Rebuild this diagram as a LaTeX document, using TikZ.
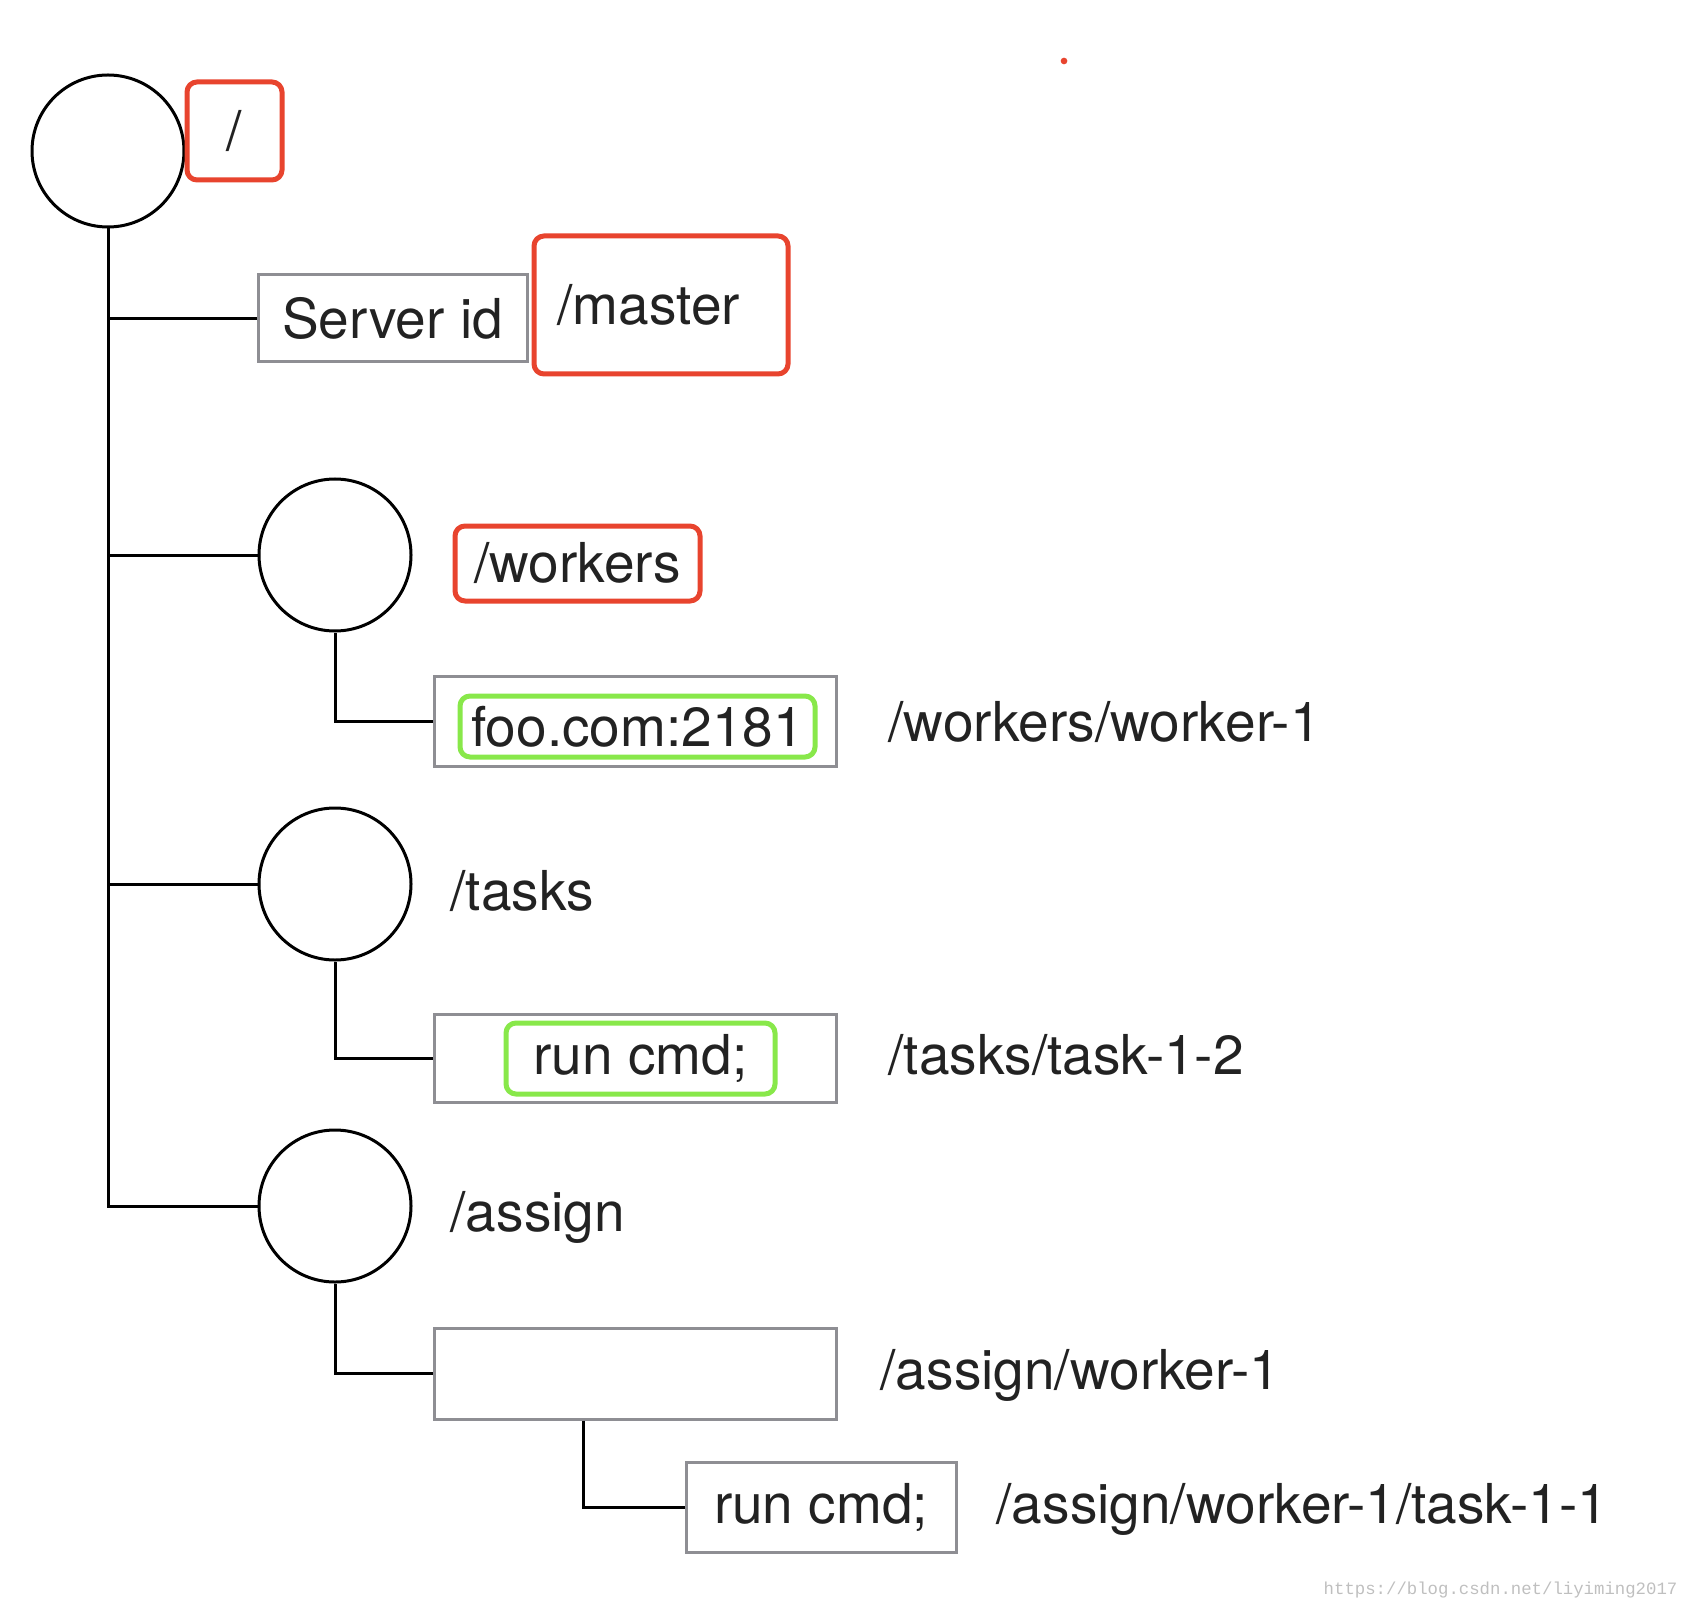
\documentclass[tikz,border=0pt]{standalone}
\usepackage{fontspec}
\setmainfont{TeX Gyre Heros}
\setmonofont{Liberation Mono}
\usepackage{tikz}
\definecolor{redline}{HTML}{E8442E}
\definecolor{greenline}{HTML}{88E84A}
\definecolor{boxgray}{HTML}{8E8E93}
\definecolor{ink}{HTML}{222222}

\begin{document}
\begin{tikzpicture}[x=0.3pt, y=-0.3pt, font=\fontsize{16.5pt}{18pt}\selectfont, text=ink,
    znode/.style={draw, circle, minimum size=45.6pt, inner sep=0pt, line width=0.9pt},
    datbox/.style={rectangle, draw=boxgray, line width=0.9pt, inner sep=0pt},
    tag/.style={rectangle, rounded corners=3pt, draw=redline, line width=1.5pt, inner sep=0pt},
    val/.style={rectangle, rounded corners=3pt, draw=greenline, line width=1.5pt, inner sep=0pt},
    path/.style={anchor=west, inner sep=0pt},
    e/.style={line width=0.9pt}]
    \useasboundingbox (0,0) rectangle (1688,1608);
    % nodes
    \node[znode] (root) at (108,151) {};
    \node[tag, minimum width=28.5pt, minimum height=29.4pt] (rootname) at (234.5,131) {/};
    \node[datbox, minimum width=80.7pt, minimum height=26.1pt] (srv) at (392.5,318.5) {Server id};
    \node[tag, minimum width=76.2pt, minimum height=41.4pt, text width=62pt, inner xsep=7pt, align=left] (master) at (661,305) {/master};
    \node[znode] (workers) at (335,555) {};
    \node[tag, minimum width=73.5pt, minimum height=22.5pt] (workersname) at (577.5,563.5) {/workers};
    \node[datbox, minimum width=120.6pt, minimum height=27pt] (w1) at (635,721) {};
    \node[val, minimum width=106.5pt, minimum height=18.3pt] (w1val) at (637.5,726.5) {foo.com:2181};
    \node[path] (w1name) at (888,722) {/workers/worker-1};
    \node[znode] (tasks) at (335,884) {};
    \node[path] (tasksname) at (450,891) {/tasks};
    \node[datbox, minimum width=120.6pt, minimum height=26.4pt] (t12) at (635,1058) {};
    \node[val, minimum width=80.7pt, minimum height=21.3pt] (t12val) at (640.5,1058.5) {run cmd;};
    \node[path] (t12name) at (888,1055) {/tasks/task-1-2};
    \node[znode] (assign) at (335,1206) {};
    \node[path] (assignname) at (450,1217) {/assign};
    \node[datbox, minimum width=120.6pt, minimum height=27.3pt] (aw1) at (635,1373.5) {};
    \node[path] (aw1name) at (880,1375) {/assign/worker-1};
    \node[datbox, minimum width=81pt, minimum height=27pt] (at11) at (821,1507) {run cmd;};
    \node[path] (at11name) at (996,1509) {/assign/worker-1/task-1-1};
    \node[circle, fill=redline, inner sep=0pt, minimum size=2pt] (dot) at (1064,61) {};
    \node[anchor=east, inner sep=0pt, text=black!25, font=\ttfamily\fontsize{5.2pt}{6pt}\selectfont] (mark) at (1678,1590) {https://blog.csdn.net/liyiming2017};
    % edges
    \draw[e] (root.south) -- (root.south |- assign.west) -- (assign.west);
    \draw[e] (root.south |- srv.west) -- (srv.west);
    \draw[e] (root.south |- workers.west) -- (workers.west);
    \draw[e] (root.south |- tasks.west) -- (tasks.west);
    \draw[e] (workers.south) |- (w1.west);
    \draw[e] (tasks.south) |- (t12.west);
    \draw[e] (assign.south) |- (aw1.west);
    \draw[e] ([xshift=-15.6pt]aw1.south) |- (at11.west);
\end{tikzpicture}
\end{document}
